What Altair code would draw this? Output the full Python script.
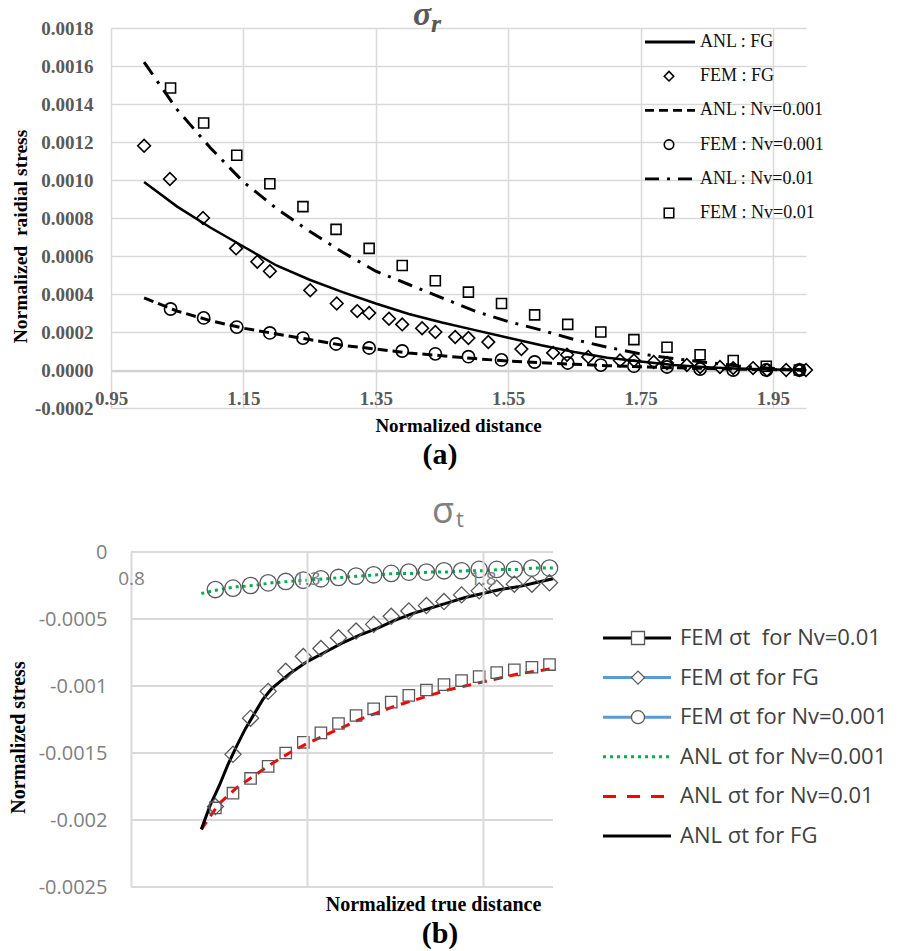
import altair as alt
import pandas as pd

SERIF = "Liberation Serif"
SANS = "Open Sans"
MINUS = "\u2212"
FIX_MINUS = f"replace(datum.label, '{MINUS}', '-')"

# ---------------- Panel (a): radial stress ----------------
a_xticks = [0.95, 1.15, 1.35, 1.55, 1.75, 1.95]
a_yticks = [-0.0002, 0.0, 0.0002, 0.0004, 0.0006, 0.0008, 0.0010, 0.0012, 0.0014, 0.0016, 0.0018]

a_anl_x = [1.00, 1.05, 1.10, 1.15, 1.20, 1.25, 1.30, 1.35, 1.40, 1.45, 1.50,
           1.55, 1.60, 1.65, 1.70, 1.75, 1.80, 1.85, 1.90, 1.95, 2.00]
a_anl_fg = [0.00099, 0.00086, 0.00075, 0.00065, 0.00055, 0.000475, 0.00041, 0.00035, 0.000295, 0.00025, 0.00021,
            0.00017, 0.00013, 0.000095, 0.000065, 0.000045, 0.000026, 0.000015, 0.000007, 0.000002, 0.0]
a_anl_nv001 = [0.00038, 0.00031, 0.00026, 0.00022, 0.00019, 0.00016, 0.00013, 0.00011, 0.00009, 0.000075, 0.00006,
               0.000047, 0.000038, 0.00003, 0.000023, 0.000017, 0.000012, 0.000008, 0.000004, 0.000002, 0.0]
a_anl_nv01 = [0.00162, 0.00137, 0.00117, 0.00099, 0.00085, 0.00073, 0.00062, 0.00052, 0.00045, 0.00038, 0.00031,
              0.000255, 0.00021, 0.00016, 0.00012, 0.000085, 0.00006, 0.00004, 0.00002, 0.000008, 0.0]

a_femfg_x = [1.0, 1.039, 1.089, 1.139, 1.171, 1.19, 1.251, 1.291, 1.322, 1.34, 1.37, 1.39, 1.42, 1.44,
             1.47, 1.49, 1.52, 1.57, 1.618, 1.639, 1.671, 1.719, 1.74, 1.77, 1.79, 1.82, 1.84, 1.87,
             1.89, 1.92, 1.941, 1.97, 1.99, 2.0]
a_femfg_y = [0.00118, 0.001005, 0.0008, 0.00064, 0.00057, 0.00052, 0.00042, 0.00035, 0.00031, 0.0003,
             0.00027, 0.00024, 0.00022, 0.0002, 0.000174, 0.000168, 0.000147, 0.00011, 0.00009, 0.00008,
             0.000069, 0.00005, 0.00005, 0.000042, 0.000037, 0.000026, 0.000016, 0.000016, 0.00001,
             0.00001, 0.0, 0.0, 0.0, 0.0]

a_fem_x = [1.04, 1.09, 1.14, 1.19, 1.24, 1.29, 1.34, 1.39, 1.44, 1.49,
           1.54, 1.59, 1.64, 1.69, 1.74, 1.79, 1.84, 1.89, 1.94, 1.99]
a_fem_nv001 = [0.000321, 0.000274, 0.000226, 0.000195, 0.000168, 0.000137, 0.000116, 0.0001, 0.000085, 0.00007,
               0.000053, 0.000042, 0.000037, 0.000026, 0.00002, 0.000016, 0.000005, 0.0, 0.0, 0.0]
a_fem_nv01 = [0.001484, 0.0013, 0.00113, 0.00098, 0.00086, 0.00074, 0.00064, 0.00055, 0.00047, 0.00041,
              0.00035, 0.00029, 0.00024, 0.0002, 0.00016, 0.00012, 0.00008, 0.00005, 0.00002, 0.0]

a_leg_labels = ["ANL : FG", "FEM : FG", "ANL : Nv=0.001", "FEM : Nv=0.001", "ANL : Nv=0.01", "FEM : Nv=0.01"]
a_leg_kinds = ["line", "marker", "line", "marker", "line", "marker"]
a_leg_rows = [0, 1, 2, 3, 4, 5]

# ---------------- Panel (b): tangential stress ----------------
b_xticks = [0.8, 1.3, 1.8]
b_yticks = [0.0, -0.0005, -0.001, -0.0015, -0.002, -0.0025]

b_anlfg_x = [1.0, 1.025, 1.05, 1.075, 1.1, 1.125, 1.15, 1.175, 1.2, 1.25, 1.3, 1.35, 1.4, 1.45, 1.5,
             1.55, 1.6, 1.65, 1.7, 1.75, 1.8, 1.85, 1.9, 1.95, 2.0]
b_anlfg_y = [-0.00207, -0.00189, -0.00175, -0.00159, -0.00145, -0.00132, -0.00121, -0.00110, -0.00102,
             -0.00091, -0.00082, -0.00075, -0.00068, -0.00062, -0.00057, -0.00051, -0.00046, -0.00042,
             -0.00038, -0.00034, -0.00031, -0.00028, -0.00026, -0.00023, -0.00020]

b_anl_x = [1.00, 1.05, 1.10, 1.15, 1.20, 1.25, 1.30, 1.35, 1.40, 1.45, 1.50,
           1.55, 1.60, 1.65, 1.70, 1.75, 1.80, 1.85, 1.90, 1.95, 2.00]
b_anl_nv01 = [-0.00207, -0.00188, -0.00176, -0.00167, -0.00158, -0.00150, -0.00143, -0.00137, -0.00131,
              -0.00125, -0.00120, -0.00115, -0.00111, -0.00107, -0.00103, -0.00100, -0.00097, -0.00094,
              -0.00091, -0.00089, -0.00087]
b_anl_nv001 = [-0.00031, -0.00028, -0.00026, -0.00025, -0.00023, -0.00022, -0.00021, -0.00020, -0.00019,
               -0.00018, -0.00017, -0.00016, -0.00016, -0.00015, -0.00015, -0.00014, -0.00014, -0.00013,
               -0.00013, -0.00012, -0.00012]

b_fem_x = [1.04, 1.09, 1.14, 1.19, 1.24, 1.29, 1.34, 1.39, 1.44, 1.49,
           1.54, 1.59, 1.64, 1.69, 1.74, 1.79, 1.84, 1.89, 1.94, 1.99]
b_fem_nv01 = [-0.00191, -0.00180, -0.00169, -0.00160, -0.00150, -0.00142, -0.00135, -0.00128, -0.00122,
              -0.00117, -0.00112, -0.00107, -0.00103, -0.00099, -0.00096, -0.00093, -0.00090, -0.00088,
              -0.00086, -0.00084]
b_fem_fg = [-0.00190, -0.00151, -0.00124, -0.00104, -0.00089, -0.00078, -0.00072, -0.00064, -0.00059,
            -0.00054, -0.00048, -0.00044, -0.00040, -0.00037, -0.00032, -0.00029, -0.00027, -0.00024,
            -0.00024, -0.00023]
b_fem_nv001 = [-0.00028, -0.00027, -0.00025, -0.00023, -0.00022, -0.00021, -0.00020, -0.00019, -0.00018,
               -0.00017, -0.00016, -0.00015, -0.00015, -0.00014, -0.00014, -0.00013, -0.00013, -0.00013,
               -0.00012, -0.00012]

b_leg_labels = ["FEM \u03c3t\u00a0 for Nv=0.01", "FEM \u03c3t for FG", "FEM \u03c3t for Nv=0.001",
                "ANL \u03c3t for Nv=0.001", "ANL \u03c3t for Nv=0.01", "ANL \u03c3t for FG"]
b_leg_kinds = ["marker", "marker", "marker", "line", "line", "line"]
b_leg_rows = [0, 1, 2, 3, 4, 5]


def frame(xs, ys):
    return pd.DataFrame({"x": xs, "y": ys})


def txt(s):
    return pd.DataFrame({"t": [s]})


# ================= Panel (a) =================
xa = alt.X("x:Q", scale=alt.Scale(domain=[0.95, 2.0], nice=False, zero=False),
           axis=alt.Axis(values=a_xticks, format=".2f", offset=-37, ticks=False,
                         domain=True, domainColor="#cfcfcf", domainWidth=1.5,
                         grid=True, gridColor="#d9d9d9", gridWidth=1.5,
                         labelFont=SERIF, labelFontWeight="bold", labelFontSize=19, labelColor="#595959",
                         labelPadding=18, labelFlush=False, labelOverlap=False,
                         title="Normalized distance", titleFont=SERIF, titleFontWeight="bold",
                         titleFontSize=19, titleColor="#000000", titleX=347, titleY=54,
                         titleBaseline="middle", titleAlign="center"))
ya = alt.Y("y:Q", scale=alt.Scale(domain=[-0.0002, 0.0018], nice=False, zero=False),
           axis=alt.Axis(values=a_yticks, format=".4f", labelExpr=FIX_MINUS, ticks=False, domain=False,
                         grid=True, gridColor="#d9d9d9", gridWidth=1.5,
                         labelFont=SERIF, labelFontWeight="bold", labelFontSize=19, labelColor="#595959",
                         labelPadding=18, labelOverlap=False,
                         title="Normalized\u00a0 raidial stress", titleFont=SERIF, titleFontWeight="bold",
                         titleFontSize=19.5, titleColor="#000000", titleX=-91, titleY=208, titleAngle=270,
                         titleBaseline="middle", titleAlign="center"))


def a_line(xs, ys, **kw):
    return alt.Chart(frame(xs, ys)).mark_line(color="black", **kw).encode(x=xa, y=ya)


def a_pts(xs, ys, shape, size):
    return alt.Chart(frame(xs, ys)).mark_point(shape=shape, size=size, filled=False, color="black",
                                               strokeWidth=1.6, opacity=1).encode(x=xa, y=ya)


data_a = alt.layer(
    a_line(a_anl_x, a_anl_fg, strokeWidth=2.5),
    a_line(a_anl_x, a_anl_nv001, strokeWidth=3, strokeDash=[10, 5]),
    a_line(a_anl_x, a_anl_nv01, strokeWidth=3, strokeDash=[15, 8, 3, 8]),
    a_pts(a_femfg_x, a_femfg_y, "diamond", 160),
    a_pts(a_fem_x, a_fem_nv001, "circle", 150),
    a_pts(a_fem_x, a_fem_nv01, "square", 100),
)

leg_a = pd.DataFrame({"row": a_leg_rows, "label": a_leg_labels, "kind": a_leg_kinds})
ly_a = alt.Y("row:Q", scale=alt.Scale(domain=[0, 5], range=[14, 185]), axis=None)
leg_a_lines = alt.Chart(leg_a).transform_filter("datum.kind == 'line'").mark_rule(
    color="black", strokeWidth=2.8).encode(
    x=alt.value(534), x2=alt.value(584), y=ly_a,
    strokeDash=alt.StrokeDash("label:N", legend=None,
                              scale=alt.Scale(domain=["ANL : FG", "ANL : Nv=0.001", "ANL : Nv=0.01"],
                                              range=[[1, 0], [9, 5], [14, 8, 3, 8]])))
leg_a_pts = alt.Chart(leg_a).transform_filter("datum.kind == 'marker'").mark_point(
    filled=False, color="black", strokeWidth=1.6, opacity=1, size=90).encode(
    x=alt.value(558), y=ly_a,
    shape=alt.Shape("label:N", legend=None,
                    scale=alt.Scale(domain=["FEM : FG", "FEM : Nv=0.001", "FEM : Nv=0.01"],
                                    range=["diamond", "circle", "square"])))
leg_a_txt = alt.Chart(leg_a).mark_text(align="left", baseline="middle", font=SERIF, fontSize=18,
                                       color="#111111").encode(x=alt.value(589), y=ly_a, text="label:N")

sig_a = alt.Chart(txt("\u03c3")).mark_text(align="left", baseline="alphabetic", font=SERIF, fontSize=34,
                                           fontStyle="italic", fontWeight="bold", color="#595959").encode(
    x=alt.value(302), y=alt.value(-3), text="t:N")
sub_a = alt.Chart(txt("r")).mark_text(align="left", baseline="alphabetic", font=SERIF, fontSize=26,
                                      fontStyle="italic", fontWeight="bold", color="#595959").encode(
    x=alt.value(320), y=alt.value(4), text="t:N")
lab_a = alt.Chart(txt("(a)")).mark_text(align="center", baseline="middle", font=SERIF, fontSize=30,
                                        fontWeight="bold", color="#000000").encode(
    x=alt.value(329), y=alt.value(427), text="t:N")

panel_a = alt.layer(
    data_a,
    alt.layer(leg_a_lines, leg_a_pts, leg_a_txt, sig_a, sub_a, lab_a),
).resolve_scale(y="independent").properties(width=695, height=380)

# ================= Panel (b) =================
xb = alt.X("x:Q", scale=alt.Scale(domain=[0.8, 2.0], range=[20, 442], nice=False, zero=False),
           axis=alt.Axis(values=b_xticks, format=".1f", offset=-335, ticks=False, domain=False,
                         grid=True, gridColor="#d9d9d9", gridWidth=2, zindex=1,
                         labelFont=SANS, labelFontSize=19, labelColor="#7f7f7f",
                         labelPadding=17, labelFlush=False, labelOverlap=False,
                         title="Normalized true distance", titleFont=SERIF, titleFontWeight="bold",
                         titleFontSize=20, titleColor="#000000", titleX=322, titleY=352,
                         titleBaseline="middle", titleAlign="center"))
yb = alt.Y("y:Q", scale=alt.Scale(domain=[-0.0025, 0.0], nice=False, zero=False),
           axis=alt.Axis(values=b_yticks, format="~g", labelExpr=FIX_MINUS, ticks=False, domain=False,
                         grid=False, labelFont=SANS, labelFontSize=20, labelColor="#7f7f7f",
                         labelPadding=4, labelOverlap=False,
                         title="Normalized stress", titleFont=SERIF, titleFontWeight="bold",
                         titleFontSize=20, titleColor="#000000", titleX=-93, titleY=185, titleAngle=270,
                         titleBaseline="middle", titleAlign="center"))

grid_b = alt.Chart(pd.DataFrame({"y": b_yticks})).mark_rule(color="#d9d9d9", strokeWidth=2).encode(
    y=yb, x=alt.datum(0.8), x2=alt.datum(2.0))


def b_line(xs, ys, color, **kw):
    return alt.Chart(frame(xs, ys)).mark_line(color=color, strokeWidth=3, **kw).encode(x=xb, y=yb)


def b_pts(xs, ys, shape, size):
    return alt.Chart(frame(xs, ys)).mark_point(shape=shape, size=size, filled=False, color="#595959",
                                               strokeWidth=1.3, opacity=1).encode(x=xb, y=yb)


data_b = alt.layer(
    grid_b,
    b_line(b_anl_x, b_anl_nv001, "#00b050", strokeDash=[3, 4]),
    b_line(b_anl_x, b_anl_nv01, "#ff0000", strokeDash=[9, 7]),
    b_line(b_anlfg_x, b_anlfg_y, "#000000"),
    b_pts(b_fem_x, b_fem_nv001, "circle", 270),
    b_pts(b_fem_x, b_fem_fg, "diamond", 260),
    b_pts(b_fem_x, b_fem_nv01, "square", 130),
)

leg_b = pd.DataFrame({"row": b_leg_rows, "label": b_leg_labels, "kind": b_leg_kinds})
ly_b = alt.Y("row:Q", scale=alt.Scale(domain=[0, 5], range=[86, 284]), axis=None)
leg_b_lines = alt.Chart(leg_b).mark_rule(strokeWidth=3).encode(
    x=alt.value(492), x2=alt.value(560), y=ly_b,
    color=alt.Color("label:N", legend=None,
                    scale=alt.Scale(domain=b_leg_labels,
                                    range=["#000000", "#5b9bd5", "#5b9bd5", "#00b050", "#ff0000", "#000000"])),
    strokeDash=alt.StrokeDash("label:N", legend=None,
                              scale=alt.Scale(domain=b_leg_labels,
                                              range=[[1, 0], [1, 0], [1, 0], [3, 4], [13, 11], [1, 0]])))
leg_b_pts = alt.Chart(leg_b).transform_filter("datum.kind == 'marker'").mark_point(
    filled=False, fill="white", color="#595959", strokeWidth=1.3, opacity=1, size=170).encode(
    x=alt.value(527), y=ly_b,
    shape=alt.Shape("label:N", legend=None,
                    scale=alt.Scale(domain=b_leg_labels[:3], range=["square", "diamond", "circle"])))
leg_b_txt = alt.Chart(leg_b).mark_text(align="left", baseline="middle", font=SANS, fontSize=22,
                                       color="#404040").encode(x=alt.value(569), y=ly_b, text="label:N")

sig_b = alt.Chart(txt("\u03c3")).mark_text(align="left", baseline="alphabetic", font=SANS, fontSize=36,
                                           color="#808080").encode(x=alt.value(321), y=alt.value(-29),
                                                                   text="t:N")
sub_b = alt.Chart(txt("t")).mark_text(align="left", baseline="alphabetic", font=SANS, fontSize=22,
                                      color="#808080").encode(x=alt.value(345), y=alt.value(-25), text="t:N")
lab_b = alt.Chart(txt("(b)")).mark_text(align="center", baseline="middle", font=SERIF, fontSize=30,
                                        fontWeight="bold", color="#000000").encode(
    x=alt.value(329), y=alt.value(382), text="t:N")

panel_b = alt.layer(
    data_b,
    alt.layer(leg_b_lines, leg_b_pts, leg_b_txt, sig_b, sub_b, lab_b),
).resolve_scale(y="independent", color="independent", strokeDash="independent",
                shape="independent").properties(width=442, height=335)

chart = alt.vconcat(panel_a, panel_b, spacing=24).properties(
    padding={"left": 0, "top": -10, "right": 0, "bottom": 0}
).configure_view(strokeWidth=0)

chart.save("out.html", embed_options={"renderer": "svg", "actions": False})
